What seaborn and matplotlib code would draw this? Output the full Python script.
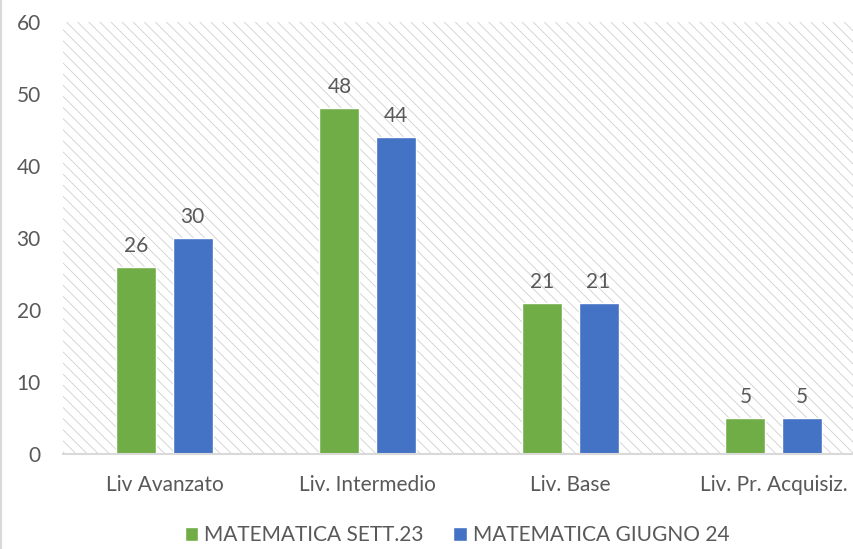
import seaborn as sns
import pandas as pd
import matplotlib.pyplot as plt
from matplotlib.patches import Rectangle
from matplotlib.lines import Line2D

# dati
categorie = ["Liv Avanzato", "Liv. Intermedio", "Liv. Base", "Liv. Pr. Acquisiz."]
serie = ["MATEMATICA SETT.23", "MATEMATICA GIUGNO 24"]
sett23 = [26, 48, 21, 5]
giugno24 = [30, 44, 21, 5]
colori = ["#70AD47", "#4472C4"]

df = pd.DataFrame({
    "Livello": categorie * 2,
    "Valore": sett23 + giugno24,
    "Serie": [serie[0]] * 4 + [serie[1]] * 4,
})

sns.set_style("white")
plt.rcParams['font.family'] = ['Lato', 'DejaVu Sans']
plt.rcParams['hatch.linewidth'] = 0.6
grigio = "#595959"
fs = 15

fig = plt.figure(figsize=(8.54, 5.49), dpi=100)
ax = fig.add_axes([63 / 854, 95 / 549, 812 / 854, 432 / 549])

# sfondo tratteggiato
sfondo = Rectangle((0, 0), 1, 1, transform=ax.transAxes, facecolor="white",
                   edgecolor="#cfcfcf", hatch="\\\\\\", lw=0, zorder=0)
ax.add_patch(sfondo)

sns.barplot(data=df, x="Livello", y="Valore", hue="Serie", palette=colori,
            width=0.554, gap=0.29, ax=ax, zorder=2, saturation=1)

for c in ax.containers:
    ax.bar_label(c, padding=8, fontsize=fs, color=grigio)

ax.set_xlim(-0.5, 3.5)
ax.set_ylim(0, 60)
ax.set_yticks(range(0, 61, 10))
ax.set_xlabel("")
ax.set_ylabel("")
ax.tick_params(axis="y", length=0, pad=16, labelsize=fs, labelcolor=grigio)
ax.tick_params(axis="x", length=0, pad=15, labelsize=fs, labelcolor=grigio)
for s in ["top", "left", "right"]:
    ax.spines[s].set_visible(False)
ax.spines["bottom"].set_color("#d9d9d9")
ax.spines["bottom"].set_linewidth(1.5)
ax.spines["bottom"].set_zorder(3)

handles, labels = ax.get_legend_handles_labels()
ax.get_legend().remove()
fig.legend(handles, labels, loc="center", bbox_to_anchor=(457 / 854, 1 - 535 / 549),
           ncol=2, frameon=False, fontsize=fs, labelcolor=grigio,
           handlelength=0.65, handleheight=0.65, handletextpad=0.3, columnspacing=1.4)

# bordo sinistro del grafico
fig.add_artist(Line2D([0.5 / 854, 0.5 / 854], [0, 1], transform=fig.transFigure,
                      color="#d9d9d9", lw=1.5))

fig.savefig("out.png", dpi=100)
